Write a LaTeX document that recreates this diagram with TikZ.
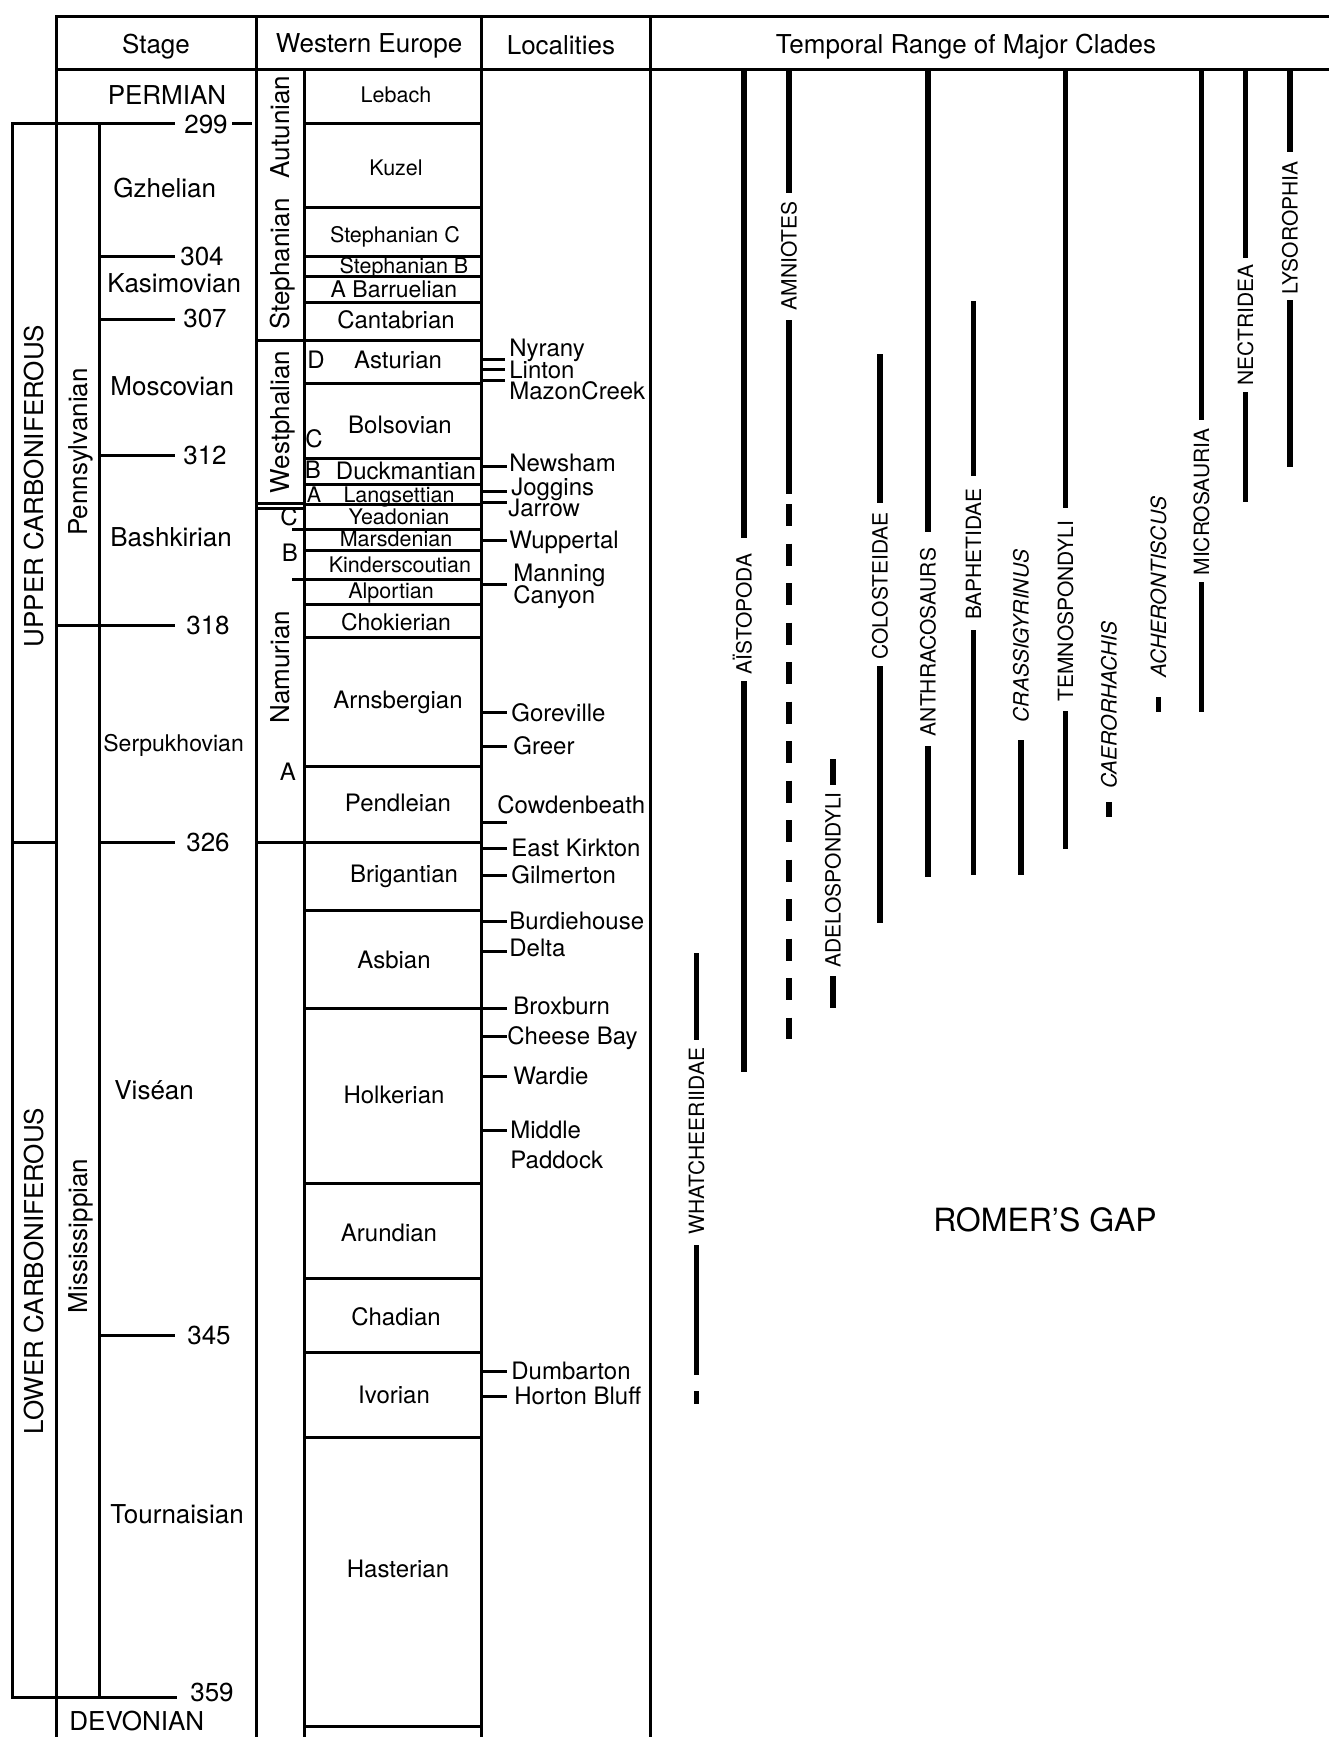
\documentclass[tikz,border=0pt]{standalone}
\usepackage{fontspec}
\setmainfont{TeX Gyre Heros}
\begin{document}
\begin{tikzpicture}[x=0.5pt,y=-0.5pt,
  tbl/.style={line width=1.5pt, line cap=rect},
  clade/.style={line width=2.6pt},
  lbl/.style={inner sep=0pt, font=\fontsize{13}{15}\selectfont, text height=9.3pt, text depth=0pt},
  lblw/.style={lbl, anchor=west},
  serp/.style={inner sep=0pt, anchor=west, font=\fontsize{11.5}{13}\selectfont, text height=8.2pt, text depth=0pt},
  rot/.style={lbl, rotate=90},
  we/.style={inner sep=0pt, font=\fontsize{12}{14}\selectfont, text height=8.6pt, text depth=0pt},
  wem/.style={inner sep=0pt, font=\fontsize{11.5}{13}\selectfont, text height=8.2pt, text depth=0pt},
  wes/.style={inner sep=0pt, font=\fontsize{10.75}{12}\selectfont, text height=7.7pt, text depth=0pt},
  loc/.style={inner sep=0pt, anchor=west, font=\fontsize{12}{14}\selectfont, text height=8.6pt, text depth=0pt},
  cl/.style={inner sep=0pt, rotate=90, font=\fontsize{10.5}{12}\selectfont, text height=7.5pt, text depth=0pt},
  cli/.style={cl, font=\fontsize{10.5}{12}\selectfont\itshape},
  gap/.style={inner sep=0pt, font=\fontsize{16}{18}\selectfont, text height=11.5pt, text depth=0pt}
]
\fill[white] (0,0) rectangle (1329,1737);
\path[use as bounding box] (0,0) rectangle (1329,1737);

% ---------- table frame ----------
\draw[tbl] (56,1737) -- (56,16) -- (1329,16);
\draw[tbl] (56,69) -- (1329,69);
\draw[tbl] (256,16) -- (256,1737);
\draw[tbl] (481,16) -- (481,1737);
\draw[tbl] (650,16) -- (650,1737);
\draw[tbl] (304,69) -- (304,1737);

% headers
\node[lbl] (hStage) at (156,44) {Stage};
\node[lbl] (hWE) at (369,43) {Western Europe};
\node[lbl] (hLoc) at (561,45) {Localities};
\node[lbl] (hTemp) at (966,44) {Temporal Range of Major Clades};

% ---------- left brackets / stage column ----------
\draw[tbl] (12,123) -- (173,123);
\draw[tbl] (233,123) -- (250,123);
\draw[tbl] (12,123) -- (12,1697) -- (175,1697);
\draw[tbl] (99,123) -- (99,1697);
\draw[tbl] (12,842) -- (56,842);
\draw[tbl] (99,256) -- (173,256);
\draw[tbl] (99,319) -- (173,319);
\draw[tbl] (99,455) -- (173,455);
\draw[tbl] (56,625) -- (173,625);
\draw[tbl] (99,842) -- (173,842);
\draw[tbl] (99,1335) -- (173,1335);

\node[lbl] (n299) at (206,124) {299};
\node[lbl] (n304) at (202,256) {304};
\node[lbl] (n307) at (205,318) {307};
\node[lbl] (n312) at (205,455) {312};
\node[lbl] (n318) at (208,625) {318};
\node[lbl] (n326) at (208,842) {326};
\node[lbl] (n345) at (209,1335) {345};
\node[lbl] (n359) at (212,1692) {359};

\node[lbl] (permian) at (167,95) {PERMIAN};
\node[lblw] (gzh) at (113,188) {Gzhelian};
\node[lblw] (kas) at (107,283) {Kasimovian};
\node[lblw] (mos) at (110,386) {Moscovian};
\node[lblw] (bash) at (110,537) {Bashkirian};
\node[serp] (serp) at (103,743) {Serpukhovian};
\node[lblw] (vis) at (114,1090) {Viséan};
\node[lblw] (tour) at (110,1514) {Tournaisian};
\node[lblw] (dev) at (69,1721) {DEVONIAN};

\node[rot] (upper) at (34,486) {UPPER CARBONIFEROUS};
\node[rot] (lower) at (34,1271) {LOWER CARBONIFEROUS};
\node[rot] (penn) at (78,452) {Pennsylvanian};
\node[rot] (miss) at (78,1236) {Mississippian};

% ---------- Western Europe column ----------
\foreach \yy in {123,207,256,276,302,340,383,458,484,504,550,604,637,766,910,1183,1278,1352,1437,1726}
  \draw[tbl] (304,\yy) -- (481,\yy);
\draw[tbl] (293,529) -- (481,529);
\draw[tbl] (293,579) -- (481,579);
\draw[tbl] (256,842) -- (481,842);
\draw[tbl] (256,340) -- (304,340);
\draw[tbl] (256,503) -- (304,503);
\draw[tbl] (256,508) -- (304,508);

\node[rot] (aut) at (280,127) {Autunian};
\node[rot] (steph) at (280,264) {Stephanian};
\node[rot] (westph) at (280,422) {Westphalian};
\node[rot] (namur) at (280,667) {Namurian};

\node[wes] (lebach) at (396,95) {Lebach};
\node[wes] (kuzel) at (396,168) {Kuzel};
\node[wes] (stC) at (395,235) {Stephanian C};
\node[wes] (stB) at (404,266) {Stephanian B};
\node[wem] (barr) at (394,289) {A Barruelian};
\node[we] (cant) at (396,320) {Cantabrian};
\node[we] (lD) at (316,360) {D};
\node[we] (ast) at (398,360) {Asturian};
\node[we] (bols) at (400,425) {Bolsovian};
\node[we] (lCw) at (314,439) {C};
\node[we] (lBw) at (313,470) {B};
\node[we] (duck) at (406,471) {Duckmantian};
\node[wes] (lAw) at (314,495) {A};
\node[wes] (lang) at (399,495) {Langsettian};
\node[wes] (yead) at (399,517) {Yeadonian};
\node[wes] (mars) at (396,539) {Marsdenian};
\node[wes] (kind) at (400,565) {Kinderscoutian};
\node[wes] (alp) at (391,591) {Alportian};
\node[wem] (chok) at (396,622) {Chokierian};
\node[we] (arns) at (398,700) {Arnsbergian};
\node[we] (pend) at (398,803) {Pendleian};
\node[we] (brig) at (404,874) {Brigantian};
\node[we] (asb) at (394,960) {Asbian};
\node[we] (holk) at (394,1095) {Holkerian};
\node[we] (arun) at (389,1233) {Arundian};
\node[we] (chad) at (396,1317) {Chadian};
\node[we] (ivor) at (394,1395) {Ivorian};
\node[we] (hast) at (398,1569) {Hasterian};
\node[we] (lCn) at (289,517) {C};
\node[we] (lBn) at (290,553) {B};
\node[we] (lAn) at (288,772) {A};

% ---------- Localities ----------
\foreach \yy in {359,369,380} \draw[tbl] (481,\yy) -- (503,\yy);
\foreach \yy in {466,491,502,540,584,712,746,822,848,875,921,951,1036,1076,1130,1371,1396}
  \draw[tbl] (481,\yy) -- (505,\yy);
\draw[tbl] (304,1008) -- (505,1008);

\node[loc] (nyr) at (509,348) {Nyrany};
\node[loc] (lin) at (509,370) {Linton};
\node[loc] (maz) at (509,391) {MazonCreek};
\node[loc] (news) at (509,463) {Newsham};
\node[loc] (jog) at (511,487) {Joggins};
\node[loc] (jar) at (508,508) {Jarrow};
\node[loc] (wup) at (509,540) {Wuppertal};
\node[loc] (man) at (513,573) {Manning};
\node[loc] (can) at (513,595) {Canyon};
\node[loc] (gor) at (511,713) {Goreville};
\node[loc] (gre) at (513,746) {Greer};
\node[loc] (cow) at (497,805) {Cowdenbeath};
\node[loc] (eki) at (511,848) {East Kirkton};
\node[loc] (gil) at (511,875) {Gilmerton};
\node[loc] (bur) at (509,921) {Burdiehouse};
\node[loc] (del) at (509,948) {Delta};
\node[loc] (brox) at (513,1006) {Broxburn};
\node[loc] (chb) at (507,1036) {Cheese Bay};
\node[loc] (war) at (513,1076) {Wardie};
\node[loc] (mid) at (510,1130) {Middle};
\node[loc] (pad) at (510,1160) {Paddock};
\node[loc] (dum) at (511,1371) {Dumbarton};
\node[loc] (hor) at (514,1396) {Horton Bluff};

% ---------- Clades ----------
% Whatcheeriidae
\draw[clade] (696.5,953) -- (696.5,1040);
\draw[clade] (696.5,1245) -- (696.5,1375);
\draw[clade] (696.5,1391) -- (696.5,1404);
\node[cl] (whatch) at (696.5,1141) {WHATCHEERIIDAE};
% Aistopoda
\draw[clade] (744,69) -- (744,538);
\draw[clade] (744,681) -- (744,1072);
\node[cl] (aist) at (744,614) {AÏSTOPODA};
% Amniotes
\draw[clade] (789,69) -- (789,193);
\draw[clade] (789,320) -- (789,494);
\draw[clade, dash pattern=on 11pt off 8.75pt] (789,504) -- (789,1039);
\node[cl] (amn) at (789,256) {AMNIOTES};
% Adelospondyli
\draw[clade] (833,759) -- (833,785);
\draw[clade] (833,976) -- (833,1008);
\node[cl] (adel) at (833,880) {ADELOSPONDYLI};
% Colosteidae
\draw[clade] (880,354) -- (880,503);
\draw[clade] (880,666) -- (880,923);
\node[cl] (colo) at (880,586) {COLOSTEIDAE};
% Anthracosaurs
\draw[clade] (928,69) -- (928,532);
\draw[clade] (928,746) -- (928,877);
\node[cl] (anth) at (928,642) {ANTHRACOSAURS};
% Baphetidae
\draw[clade] (973.5,301) -- (973.5,476);
\draw[clade] (973.5,630) -- (973.5,875);
\node[cl] (baph) at (973.5,554) {BAPHETIDAE};
% Crassigyrinus
\draw[clade] (1021,740) -- (1021,875);
\node[cli] (crass) at (1021,636) {CRASSIGYRINUS};
% Temnospondyli
\draw[clade] (1065.5,69) -- (1065.5,508);
\draw[clade] (1065.5,711) -- (1065.5,849);
\node[cl] (temno) at (1065.5,611) {TEMNOSPONDYLI};
% Caerorhachis
\draw[clade] (1109,802) -- (1109,817);
\node[cli] (caer) at (1109,705) {CAERORHACHIS};
% Acherontiscus
\draw[clade] (1158.5,697) -- (1158.5,712);
\node[cli] (ache) at (1158.5,587) {ACHERONTISCUS};
% Microsauria
\draw[clade] (1201.5,69) -- (1201.5,420);
\draw[clade] (1201.5,582) -- (1201.5,712);
\node[cl] (micro) at (1201.5,502) {MICROSAURIA};
% Nectridea
\draw[clade] (1245.5,69) -- (1245.5,258);
\draw[clade] (1245.5,392) -- (1245.5,502);
\node[cl] (nect) at (1245.5,325) {NECTRIDEA};
% Lysorophia
\draw[clade] (1290,69) -- (1290,152);
\draw[clade] (1290,300) -- (1290,467);
\node[cl] (lyso) at (1290,228) {LYSOROPHIA};

\node[gap] (romer) at (1045,1220) {ROMER'S GAP};
\end{tikzpicture}
\end{document}
